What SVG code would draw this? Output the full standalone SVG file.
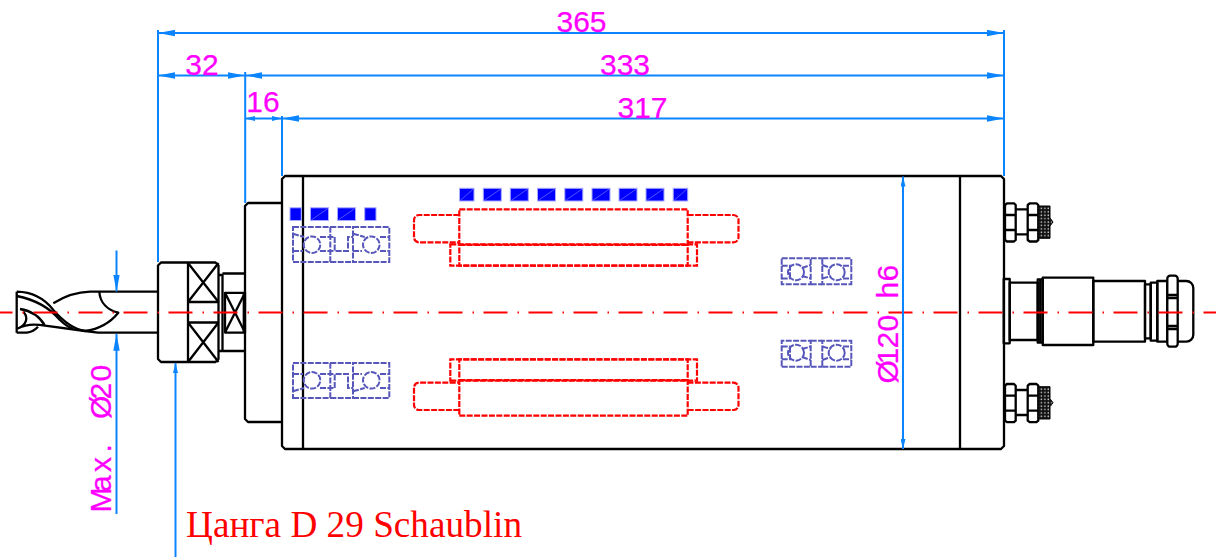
<svg xmlns="http://www.w3.org/2000/svg" xmlns:xlink="http://www.w3.org/1999/xlink" width="1216" height="557" viewBox="0 0 1216 557">
<style>
.k{fill:none;stroke:#000;stroke-width:2.3;stroke-linejoin:round}
.w{fill:#fff;stroke:#000;stroke-width:2.3;stroke-linejoin:round}
.d{fill:none;stroke:#0a84ff;stroke-width:2}
.dim{font-family:"Liberation Sans",Arial,sans-serif;font-size:30px;fill:#ff00ff;stroke:#ff00ff;stroke-width:.25}
.nr{font-family:"Liberation Sans Narrow","Liberation Sans",Arial,sans-serif}
.b{fill:none;stroke:#5757bb;stroke-width:2;stroke-dasharray:6 1.4}
.r{fill:none;stroke:#ff0000;stroke-width:2.2;stroke-dasharray:6 1.4}
.s{fill:#0000ff;stroke:#a8a8ff;stroke-width:1}
.sd{stroke:#8a8aff;stroke-width:.6}
.c{fill:none;stroke:#ff0000;stroke-width:2;stroke-dasharray:24 10 1.5 9.5;stroke-dashoffset:11.5}
</style>
<defs>
<marker id="a" viewBox="0 0 17 7" refX="17" refY="3.5" markerWidth="17" markerHeight="7" markerUnits="userSpaceOnUse" orient="auto-start-reverse"><path d="M17 3.5L0 .3V6.7Z" fill="#0a84ff"/></marker>
<marker id="n" viewBox="0 0 10 5" refX="10" refY="2.5" markerWidth="10" markerHeight="5" markerUnits="userSpaceOnUse" orient="auto-start-reverse"><path d="M10 2.5L0 0V5Z" fill="#0a84ff"/></marker>
<pattern id="kn" width="3.4" height="3.4" patternUnits="userSpaceOnUse"><rect width="3.4" height="3.4" fill="#111"/><circle cx="1.1" cy="1.1" r=".8" fill="#ccc"/></pattern>
<g id="brgL">
<rect x="293" y="227" width="37.3" height="35" class="b"/>
<rect x="353" y="227" width="36.3" height="35" class="b"/>
<path class="b" d="M330.3 227H353M330.3 262H353"/>
<path class="b" d="M293 233.7L304 237M293 251H303M320 237H334.7V251H348V237H353M320 251H334.7"/>
<path class="b" d="M353 233.7L364.7 237M353 251H362M380 237H389.3M380 251H389.3"/>
<circle cx="312" cy="244.7" r="8.3" class="b"/>
<circle cx="371.3" cy="244.7" r="8.3" class="b"/>
</g>
<g id="brgR">
<rect x="781.7" y="258.3" width="29" height="26" class="b"/>
<rect x="822.3" y="258.3" width="29" height="26" class="b"/>
<path class="b" d="M810.7 258.3H822.3M810.7 284.3H822.3M781.7 265.7H790V278.5M781.7 278.5H790M802 268L810.7 265M802 276L810.7 278.5M822.3 265L831 268M822.3 278.5L831 276M843 265.7H851.3M843 278.5H851.3"/>
<circle cx="796" cy="272.3" r="8" class="b"/>
<circle cx="836.7" cy="272.3" r="8" class="b"/>
</g>
<g id="red">
<rect x="459.3" y="209.3" width="228.4" height="56.4" class="r"/>
<rect x="450.3" y="244.3" width="246.7" height="21.4" class="r"/>
<path class="r" d="M459.3 244.9H687.7"/>
<path class="r" d="M459.3 215H419a5 5 0 0 0-5 5V237.3a5 5 0 0 0 5 5H459.3"/>
<path class="r" d="M687.7 215H733.5a5 5 0 0 1 5 5V237.3a5 5 0 0 1-5 5H687.7"/>
</g>
<g id="fit">
<path class="k" d="M1015.7 209.3H1027.7M1015.7 234.3H1027.7"/>
<path class="w" d="M1007 203.3H1014L1015.7 205V240L1014 241.5H1007L1005 240V205Z"/>
<path class="w" d="M1029.7 203.3H1036.5L1038.3 205V240L1036.5 241.5H1029.7L1027.7 240V205Z"/>
<path class="k" d="M1005 215H1015.7M1005 230H1015.7M1027.7 215H1038.3M1027.7 230H1038.3"/>
<path d="M1038.3 206H1050V218L1053 222L1050 226V238.3H1038.3Z" fill="url(#kn)" stroke="#000" stroke-width="1"/>
</g>
<g id="sq"><rect class="s" width="18" height="12.7"/><path class="sd" d="M1 12L17 1"/></g>
<g id="sqn"><rect class="s" width="14.5" height="12.7"/><path class="sd" d="M1 12L13.5 1"/></g>
</defs>

<g id="spindle-body">
<path class="k" d="M285 176H1001L1004 179V446L1001 449H285L282 446V179Z"/>
<path class="k" d="M303 176V449M960 176V449"/>
</g>
<g id="flange"><path class="k" d="M282 203H248L245 206V419L248 422H282"/></g>
<g id="collet-nut">
<path class="w" d="M161 262.5H215.5L218.5 265.5V359L215.5 362H161L158 359V265.5Z"/>
<path class="k" d="M188 262.5V362M188 302H218.5M188 322.5H218.5M188 263L218.5 302M218.5 263L188 302M188 322.5L218.5 362M218.5 322.5L188 362"/>
<path class="k" d="M218.5 275H222.5V351H218.5M222.5 273.5H245M222.5 351H245"/>
<path class="k" d="M225 292.8H245V332.6H225ZM225 292.8L245 332.6M245 292.8L225 332.6"/>
<path class="k" d="M243.8 292.8V332.6"/>
</g>
<g id="drill">
<path class="k" d="M158 291.7H90C78 292 65 296 53.3 303.3M158 332.7H98L85 331"/>
<path class="k" d="M16.7 291.7V332.7M16.7 291.7C32 292 44 298 53.3 310C62 320 72 329 85 331"/>
<path class="k" d="M16.7 296C32 299 48 306 60 320C64 324 68 327 73.3 329"/>
<path class="k" d="M99.3 291.7C100 303 108 310 118.3 312.7C110 323 99 329 85 331"/>
<path class="k" d="M20 309C33 311 40 317 45 325.7L85 331M23.3 311.7C29 318 26 325 18.3 328.3C26 324 36 324 45 325.7M16.7 332.7H26.7C31 332 35 330 38 326.7"/>
</g>
<g id="bearings">
<use href="#brgL"/>
<use href="#brgL" transform="matrix(1 0 0 -1 0 625)"/>
<use href="#brgR"/>
<use href="#brgR" transform="matrix(1 0 0 -1 0 625)"/>
</g>
<g id="shaft-seals">
<use href="#red"/>
<use href="#red" transform="matrix(1 0 0 -1 0 625)"/>
</g>
<g id="blue-squares">
<use href="#sqn" x="459.5" y="188.3"/><use href="#sq" x="483.3" y="188.3"/><use href="#sq" x="510.3" y="188.3"/><use href="#sq" x="537.5" y="188.3"/><use href="#sq" x="564.8" y="188.3"/><use href="#sq" x="592" y="188.3"/><use href="#sq" x="619" y="188.3"/><use href="#sq" x="646" y="188.3"/><use href="#sqn" x="673.2" y="188.3"/>
<rect class="s" x="290" y="207.8" width="11.3" height="12.7"/><use href="#sq" x="310.5" y="207.8"/><use href="#sq" x="337.5" y="207.8"/><rect class="s" x="364.7" y="207.8" width="11.3" height="12.7"/>
</g>
<g id="fittings">
<use href="#fit"/>
<use href="#fit" y="180.7"/>
</g>
<g id="connector">
<rect class="k" x="1003.7" y="279" width="6" height="64.3"/>
<rect class="k" x="1009.7" y="282.7" width="28" height="57.3"/>
<path class="k" d="M1037.7 279.3H1042.7V342.7H1037.7ZM1040.2 279.3V342.7"/>
<rect class="k" x="1042.7" y="277.7" width="50.6" height="67.3"/>
<rect class="k" x="1093.3" y="281" width="51.7" height="60.7"/>
<rect class="k" x="1145" y="284.3" width="5.7" height="54"/>
<rect class="k" x="1150.7" y="282.7" width="6.6" height="58"/>
<rect class="k" x="1157.3" y="281" width="10" height="60.7"/>
<path class="k" d="M1177.7 281H1186.3A7 7 0 0 1 1193.3 288V334.7A7 7 0 0 1 1186.3 341.7H1177.7"/>
<rect class="w" x="1167.3" y="275.7" width="10.4" height="71" rx="3"/>
<path class="k" d="M1167.3 295H1177.7M1167.3 298H1177.7M1167.3 326H1177.7M1167.3 329H1177.7"/>
</g>
<g id="centerline"><path class="c" d="M0 312.5H1216"/></g>
<g id="connectors">
<path class="d" d="M158 30V262M245.2 72V203M282 116V176M1004 30V176"/>
<path class="d" d="M158 33H1004" marker-start="url(#a)" marker-end="url(#a)"/>
<path class="d" d="M158 75.5H245" marker-start="url(#a)" marker-end="url(#a)"/>
<path class="d" d="M245.2 75.5H1004" marker-start="url(#a)" marker-end="url(#a)"/>
<path class="d" d="M245.2 118.5H282" marker-start="url(#n)" marker-end="url(#n)"/>
<path class="d" d="M282 118.5H1004" marker-start="url(#a)" marker-end="url(#a)"/>
<path class="d" d="M903 176.5V449" marker-start="url(#n)" marker-end="url(#n)"/>
<path class="d" d="M116.5 250.5V291.5" marker-end="url(#a)"/>
<path class="d" d="M116.5 514V333.8" marker-end="url(#a)"/>
<path class="d" d="M175.5 557V363" marker-end="url(#n)"/>
</g>
<g id="labels">
<text class="dim" x="581.5" y="31.5" text-anchor="middle">365</text>
<text class="dim" x="202" y="74.5" text-anchor="middle">32</text>
<text class="dim" x="625" y="74.5" text-anchor="middle">333</text>
<text class="dim" x="263" y="111.5" text-anchor="middle">16</text>
<text class="dim" x="642.5" y="117.5" text-anchor="middle">317</text>
<text class="dim" transform="translate(898 383.5) rotate(-90)" x="0 19 35 52 68 85 102"><tspan class="nr">Ø</tspan>120 h6</text>
<text class="dim" transform="translate(111 512.5) rotate(-90)" x="0 20.5 40.5 60 80 93.5 113 131"><tspan class="nr">M</tspan>ax. <tspan class="nr">Ø</tspan>20</text>
<text x="186" y="536.5" font-family="'Liberation Serif','Times New Roman',serif" font-size="37" fill="#ff0000" textLength="336" lengthAdjust="spacingAndGlyphs">Цанга D 29 Schaublin</text>
</g>
</svg>
